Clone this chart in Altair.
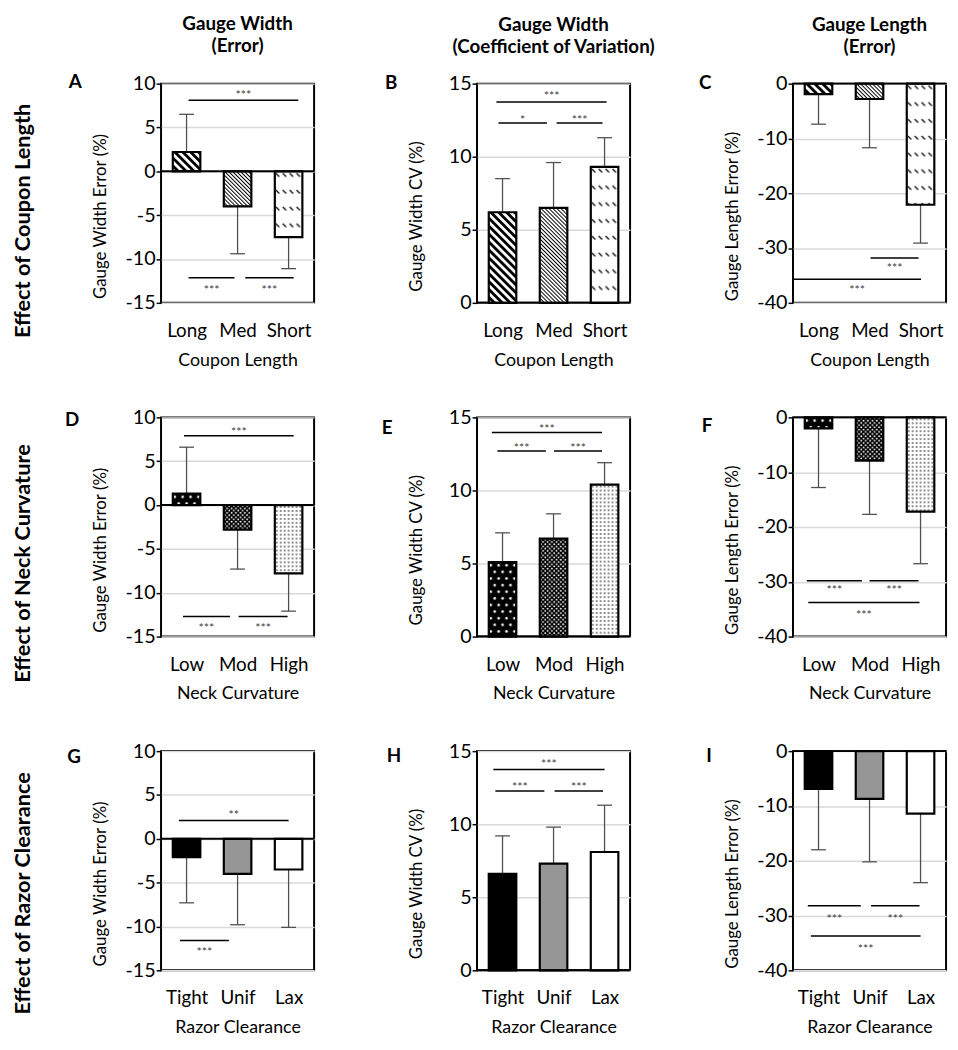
import json
import urllib.parse
import altair as alt
import pandas as pd

# ---------------- data ----------------
COUPON = ["Long", "Med", "Short"]
NECK = ["Low", "Mod", "High"]
RAZOR = ["Tight", "Unif", "Lax"]

A_mean = [2.2, -4.0, -7.5]
A_err = [6.5, -9.4, -11.1]
B_mean = [6.2, 6.5, 9.3]
B_err = [8.5, 9.6, 11.3]
C_mean = [-1.9, -2.8, -22.1]
C_err = [-7.4, -11.7, -29.1]
D_mean = [1.3, -2.8, -7.8]
D_err = [6.6, -7.3, -12.1]
E_mean = [5.1, 6.7, 10.4]
E_err = [7.1, 8.4, 11.9]
F_mean = [-2.0, -7.9, -17.2]
F_err = [-12.8, -17.7, -26.7]
G_mean = [-2.1, -4.0, -3.5]
G_err = [-7.3, -9.8, -10.1]
H_mean = [6.6, 7.3, 8.1]
H_err = [9.2, 9.8, 11.3]
I_mean = [-6.9, -8.7, -11.4]
I_err = [-18.0, -20.2, -24.0]

# significance brackets: (from index, to index, line y, label y, label)
A_sig = [(0.04, 2.19, 8.1, 9.0, "***"), (0.04, 0.94, -12.15, -13.3, "***"), (1.15, 2.1, -12.15, -13.3, "***")]
B_sig = [(-0.12, 2.04, 13.75, 14.3, "***"), (-0.08, 0.87, 12.3, 12.7, "*"), (1.06, 1.96, 12.3, 12.7, "***")]
C_sig = [(1.02, 1.96, -31.8, -33.2, "***"), (-0.5, 2.01, -35.7, -37.2, "***")]
D_sig = [(-0.05, 2.1, 7.9, 8.6, "***"), (-0.07, 0.85, -12.7, -13.7, "***"), (1.02, 1.98, -12.7, -13.7, "***")]
E_sig = [(-0.21, 1.95, 13.96, 14.4, "***"), (-0.1, 0.85, 12.7, 13.1, "***"), (1.01, 1.95, 12.7, 13.1, "***")]
F_sig = [(-0.23, 0.85, -29.8, -31.1, "***"), (1.0, 1.96, -29.8, -31.1, "***"), (-0.2, 1.98, -33.8, -35.7, "***")]
G_sig = [(-0.15, 2.0, 2.1, 3.0, "**"), (-0.13, 0.83, -11.6, -12.6, "***")]
H_sig = [(-0.18, 2.0, 13.75, 14.3, "***"), (-0.14, 0.82, 12.27, 12.7, "***"), (1.02, 1.97, 12.27, 12.7, "***")]
I_sig = [(-0.21, 0.83, -28.2, -30.1, "***"), (1.03, 1.98, -28.2, -30.1, "***"), (-0.15, 2.0, -33.75, -35.6, "***")]

COL_TITLES = [["Gauge Width", "(Error)"], ["Gauge Width", "(Coefficient of Variation)"], ["Gauge Length", "(Error)"]]
ROW_LABELS = ["Effect of Coupon Length", "Effect of Neck Curvature", "Effect of Razor Clearance"]
X_TITLES = ["Coupon Length", "Neck Curvature", "Razor Clearance"]
Y_TITLES = ["Gauge Width Error (%)", "Gauge Width CV (%)", "Gauge Length Error (%)"]
Y_DOMAINS = [[-15, 10], [0, 15], [-40, 0]]
Y_TICKS = [[-15, -10, -5, 0, 5, 10], [0, 5, 10, 15], [-40, -30, -20, -10, 0]]

# ---------------- styles ----------------
FONT = "Lato"
W, H = 155, 222
HALF_BAR = 0.27
HALF_CAP = 0.145
ERR_COLOR = "#505050"


def svg_uri(body, w, h, bg, rotate=None):
    tf = f" patternTransform='rotate({rotate})'" if rotate is not None else ""
    svg = (
        "<svg xmlns='http://www.w3.org/2000/svg' width='100%' height='100%'>"
        f"<defs><pattern id='p' width='{w}' height='{h}' patternUnits='userSpaceOnUse'{tf}>"
        f"<rect width='{w}' height='{h}' fill='{bg}'/>{body}</pattern></defs>"
        "<rect width='100%' height='100%' fill='url(#p)'/></svg>"
    )
    return "data:image/svg+xml;charset=utf-8," + urllib.parse.quote(svg)


PAT_WIDE = svg_uri("<rect width='2.9' height='5.66' fill='black'/>", 5.66, 5.66, "white", -45)
PAT_NARROW = svg_uri("<rect width='1.0' height='2.83' fill='black'/>", 2.83, 2.83, "white", -45)
PAT_DASH = svg_uri("<path d='M1,2 L4.5,5.5' stroke='black' stroke-width='1.2'/>", 7, 17, "white")
PAT_BIGDOT = svg_uri("<circle cx='2' cy='3.3' r='1.3' fill='white'/><circle cx='6' cy='10' r='1.3' fill='white'/>", 8, 13.4, "black")
PAT_CHECK = svg_uri("<circle cx='1.1' cy='1.1' r='0.95' fill='white'/><circle cx='3.35' cy='3.35' r='0.95' fill='white'/>", 4.5, 4.5, "black")
PAT_SMALLDOT = svg_uri("<circle cx='2' cy='2' r='0.8' fill='black'/>", 4, 4, "white")

ROW_PATTERNS = [[PAT_WIDE, PAT_NARROW, PAT_DASH], [PAT_BIGDOT, PAT_CHECK, PAT_SMALLDOT], None]
RAZOR_FILLS = ["black", "#969696", "white"]

PANELS = [
    ("A", COUPON, A_mean, A_err, A_sig, (-87, -2)),
    ("B", COUPON, B_mean, B_err, B_sig, (-87, -1)),
    ("C", COUPON, C_mean, C_err, C_sig, (-89, -1)),
    ("D", NECK, D_mean, D_err, D_sig, (-90, 3)),
    ("E", NECK, E_mean, E_err, E_sig, (-91, 11)),
    ("F", NECK, F_mean, F_err, F_sig, (-87, 9)),
    ("G", RAZOR, G_mean, G_err, G_sig, (-88, 6)),
    ("H", RAZOR, H_mean, H_err, H_sig, (-84, 5)),
    ("I", RAZOR, I_mean, I_err, I_sig, (-85, 5)),
]
ROW_LABEL_Y = [139, 148, 144]


def make_panel(k):
    letter, cats, means, errs, sig, (ldx, ldy) = PANELS[k]
    row, col = divmod(k, 3)
    df = pd.DataFrame({"idx": [0, 1, 2], "cat": cats, "mean": means, "err": errs})
    sdf = pd.DataFrame(sig, columns=["x1", "x2", "y", "ty", "lab"])

    xs = alt.Scale(domain=[-0.5, 2.5], nice=False, zero=False)
    ys = alt.Scale(domain=Y_DOMAINS[col], nice=False, zero=False)
    xaxis = alt.Axis(
        values=[0, 1, 2], labelExpr=f"{json.dumps(cats)}[datum.value]",
        title=X_TITLES[row], grid=False, ticks=False, domain=False,
        labelPadding=19, labelFontSize=19, titleY=58, titleBaseline="middle",
        titleFontSize=18,
    )
    yaxis = alt.Axis(
        values=Y_TICKS[col], labelExpr="'' + datum.value", title=Y_TITLES[col],
        grid=True, domain=False, labelFontSize=20,
        tickSize=5, tickWidth=1.5, tickColor="black", labelPadding=1,
        titleX=-61, titleY=134, titleAlign="center", titleBaseline="middle",
        titleFontSize=17,
    )

    def X(f):
        return alt.X(f, scale=xs, axis=xaxis)

    def Y(f):
        return alt.Y(f, scale=ys, axis=yaxis)

    base = alt.Chart(df).transform_calculate(
        x0=f"datum.idx - {HALF_BAR}", x1=f"datum.idx + {HALF_BAR}",
        c0=f"datum.idx - {HALF_CAP}", c1=f"datum.idx + {HALF_CAP}",
    )
    layers = []
    # error bars
    layers.append(base.mark_rule(color=ERR_COLOR, strokeWidth=1.3).encode(
        x=X("idx:Q"), y=Y("mean:Q"), y2="err:Q"))
    layers.append(base.mark_rule(color=ERR_COLOR, strokeWidth=1.3).encode(
        x=X("c0:Q"), x2="c1:Q", y=Y("err:Q")))
    # bars
    pats = ROW_PATTERNS[row]
    if pats is not None:
        for i, uri in enumerate(pats):
            layers.append(base.transform_filter(f"datum.idx == {i}").mark_image(aspect=False).encode(
                x=X("x0:Q"), x2="x1:Q", y=Y("mean:Q"), y2=alt.datum(0), url=alt.value(uri)))
        layers.append(base.mark_bar(fillOpacity=0, stroke="black", strokeWidth=2.2).encode(
            x=X("x0:Q"), x2="x1:Q", y=Y("mean:Q"), y2=alt.datum(0)))
    else:
        layers.append(base.mark_bar(stroke="black", strokeWidth=2.2).encode(
            x=X("x0:Q"), x2="x1:Q", y=Y("mean:Q"), y2=alt.datum(0),
            fill=alt.Fill("cat:N", scale=alt.Scale(domain=cats, range=RAZOR_FILLS), legend=None)))
    # zero line
    layers.append(alt.Chart(alt.InlineData(values=[{"z": 0}])).mark_rule(color="black", strokeWidth=2).encode(
        y=Y("z:Q")))
    # significance brackets
    sbase = alt.Chart(sdf)
    layers.append(sbase.mark_rule(color="black", strokeWidth=1.5).encode(
        x=X("x1:Q"), x2="x2:Q", y=Y("y:Q")))
    layers.append(sbase.transform_calculate(xm="(datum.x1 + datum.x2) / 2").mark_text(
        font=FONT, fontSize=12.5, color="#404040", baseline="middle", dy=2.5).encode(
        x=X("xm:Q"), y=Y("ty:Q"), text="lab:N"))
    # panel letter
    one = alt.InlineData(values=[{"k": 0}])
    layers.append(alt.Chart(one).mark_text(
        font=FONT, fontSize=19, fontWeight="bold", color="black", align="center", baseline="middle").encode(
        x=alt.value(ldx), y=alt.value(ldy), text=alt.value(letter)))
    # row label
    if col == 0:
        layers.append(alt.Chart(one).mark_text(
            font=FONT, fontSize=22, fontWeight="bold", color="black", align="center",
            baseline="middle", angle=270).encode(
            x=alt.value(-140), y=alt.value(ROW_LABEL_Y[row]), text=alt.value(ROW_LABELS[row])))

    props = dict(width=W, height=H)
    if row == 0:
        props["title"] = alt.TitleParams(
            text=COL_TITLES[col], font=FONT, fontSize=19, fontWeight="bold", color="black",
            anchor="middle", frame="group", offset=17, lineHeight=22)
    return alt.layer(*layers).properties(**props)


panels = [make_panel(k) for k in range(9)]

chart = alt.concat(
    *panels, columns=3, spacing={"row": 116, "column": 165}, bounds="flush"
).properties(
    padding={"left": 3, "top": 0, "right": 2, "bottom": 0}
).configure_view(
    stroke="black", strokeWidth=2
).configure_axis(
    labelFont=FONT, titleFont=FONT, labelColor="black", titleColor="black",
    titleFontWeight="normal", gridColor="#d9d9d9", gridWidth=1.5,
)

chart.save("out.html", embed_options={"renderer": "svg", "actions": False})
